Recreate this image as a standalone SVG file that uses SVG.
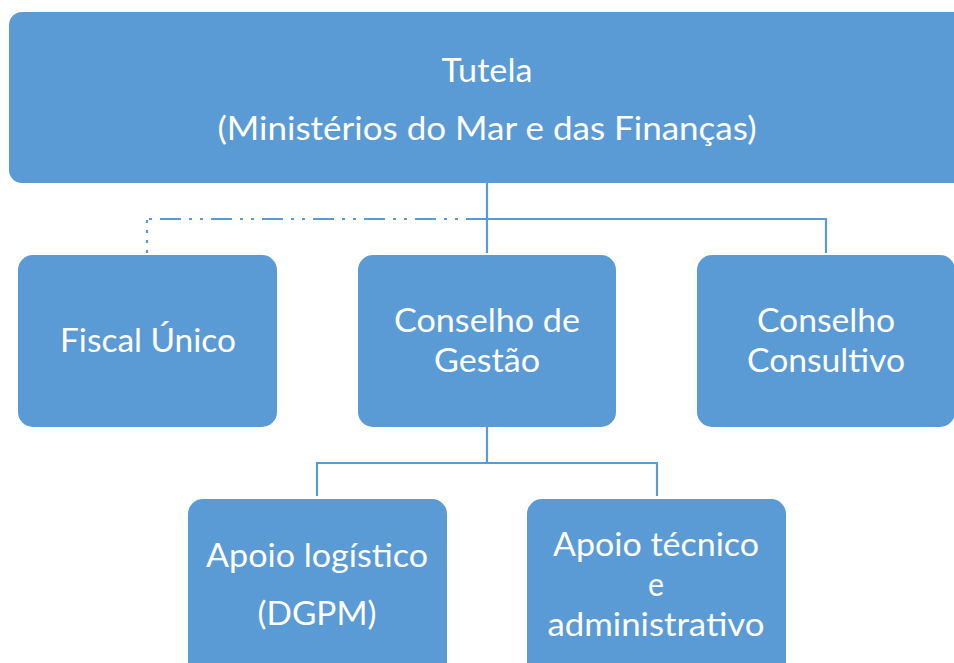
<svg xmlns="http://www.w3.org/2000/svg" width="954" height="663" viewBox="0 0 954 663">
<style>
.box{fill:#5B9BD5;}
.t{font-family:Lato,"Open Sans","Liberation Sans",sans-serif;font-size:32px;fill:#ffffff;text-anchor:middle;}
.ln{fill:none;stroke:#5B9BD5;stroke-width:2.2;}
</style>
<rect width="954" height="663" fill="#ffffff"/>
<g id="connectors">
<path class="ln" d="M487,183 V253"/>
<path class="ln" d="M487,219 H826 V253"/>
<path class="ln" d="M487,219 H147" stroke-dasharray="21,8,3,8,3,8" stroke-width="2.6"/>
<path class="ln" d="M147,220 V253" stroke-dasharray="3,7" stroke-width="2.6"/>
<path class="ln" d="M487,427 V463 M317,496 V463 H657 V496"/>
</g>
<g id="tutela">
<rect class="box" x="9" y="12" width="960" height="171" rx="13"/>
<text class="t" x="487" y="82" textLength="91" lengthAdjust="spacingAndGlyphs">Tutela</text>
<text class="t" x="487" y="140" textLength="539" lengthAdjust="spacingAndGlyphs">(Ministérios do Mar e das Finanças)</text>
</g>
<g id="fiscal">
<rect class="box" x="18" y="255" width="259" height="172" rx="15"/>
<text class="t" x="148" y="352" textLength="176" lengthAdjust="spacingAndGlyphs">Fiscal Único</text>
</g>
<g id="gestao">
<rect class="box" x="358" y="255" width="258" height="172" rx="15"/>
<text class="t" x="487" y="332" textLength="186" lengthAdjust="spacingAndGlyphs">Conselho de</text>
<text class="t" x="487" y="372" textLength="106" lengthAdjust="spacingAndGlyphs">Gestão</text>
</g>
<g id="consultivo">
<rect class="box" x="697" y="255" width="258" height="172" rx="15"/>
<text class="t" x="826" y="332" textLength="138" lengthAdjust="spacingAndGlyphs">Conselho</text>
<text class="t" x="826" y="372" textLength="158" lengthAdjust="spacingAndGlyphs">Consultivo</text>
</g>
<g id="logistico">
<rect class="box" x="188" y="499" width="259" height="180" rx="15"/>
<text class="t" x="317" y="567" textLength="222" lengthAdjust="spacingAndGlyphs">Apoio logístico</text>
<text class="t" x="317" y="625" textLength="119" lengthAdjust="spacingAndGlyphs">(DGPM)</text>
</g>
<g id="tecnico">
<rect class="box" x="527" y="499" width="259" height="180" rx="15"/>
<text class="t" x="656" y="556" textLength="206" lengthAdjust="spacingAndGlyphs">Apoio técnico</text>
<text class="t" x="656" y="596" textLength="16" lengthAdjust="spacingAndGlyphs">e</text>
<text class="t" x="656" y="636" textLength="217" lengthAdjust="spacingAndGlyphs">administrativo</text>
</g>
</svg>
